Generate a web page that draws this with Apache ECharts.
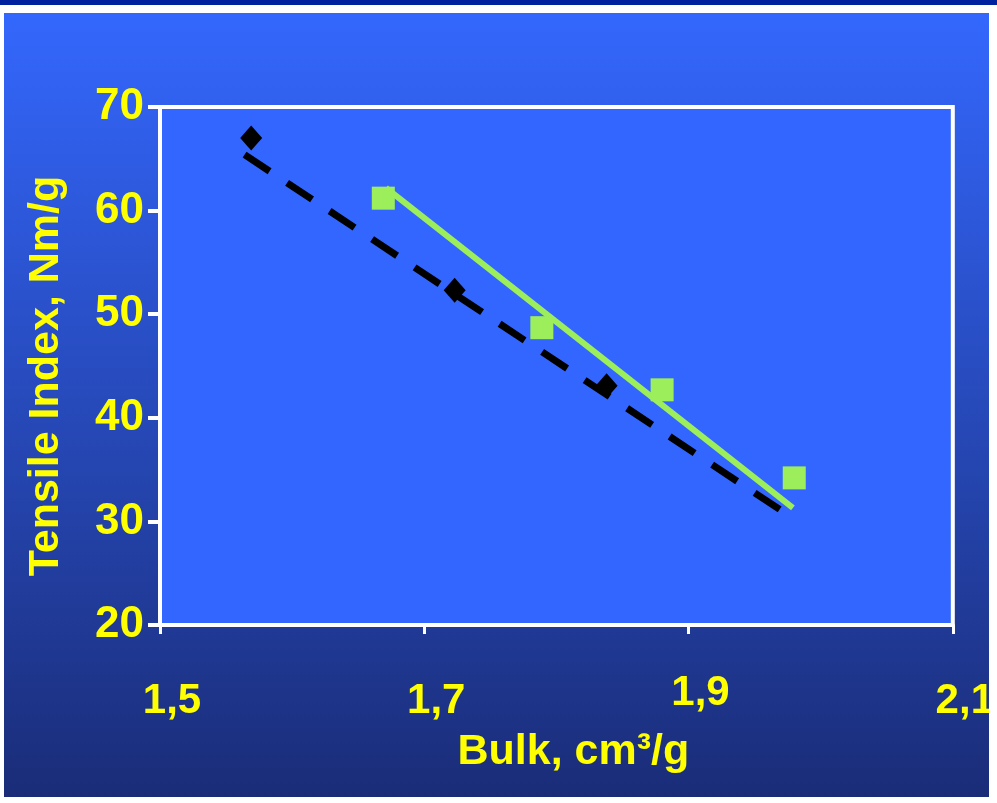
<!DOCTYPE html>
<html><head><meta charset="utf-8">
<script src="https://cdn.jsdelivr.net/npm/echarts@6/dist/echarts.min.js"></script>
<style>html,body{margin:0;padding:0;background:#fff}#c{width:997px;height:803px}</style>
</head><body><div id="c"></div>
<script>
// ---- data ----
const xTickValues = [1.5, 1.7, 1.9, 2.1];
const yTickValues = [20, 30, 40, 50, 60, 70];
const xTitle = 'Bulk, cm³/g';
const yTitle = 'Tensile Index, Nm/g';
// black diamonds
const diamondX = [1.569, 1.723, 1.838];
const diamondY = [67.0, 52.3, 43.1];
// black dashed trend line end points
const dashTrendX = [1.564, 1.972];
const dashTrendY = [65.4, 30.9];
// green squares
const squareX = [1.669, 1.789, 1.880, 1.980];
const squareY = [61.2, 48.7, 42.7, 34.2];
// green solid trend line end points
const greenTrendX = [1.671, 1.979];
const greenTrendY = [62.2, 31.3];

const zip = (a, b) => a.map((v, i) => [v, b[i]]);
const YEL = '#ffff00';
const GREEN = '#9cef5a';
const FONT = '"Liberation Sans", Arial, sans-serif';

const chart = echarts.init(document.getElementById('c'), null, {renderer: 'canvas'});
chart.setOption({
  animation: false,
  backgroundColor: new echarts.graphic.LinearGradient(0, 0, 0, 1, [
    {offset: 0, color: '#3468ff'},
    {offset: 1, color: '#1a2c77'}
  ]),
  graphic: [
    {type: 'rect', z: 100, shape: {x: 0, y: 5, width: 997, height: 8}, style: {fill: '#ffffff'}},
    {type: 'rect', z: 100, shape: {x: 0, y: 0, width: 997, height: 5}, style: {fill: '#00229e'}},
    {type: 'rect', z: 100, shape: {x: 0, y: 5, width: 4, height: 798}, style: {fill: '#ffffff'}},
    {type: 'rect', z: 100, shape: {x: 989, y: 5, width: 8, height: 798}, style: {fill: '#ffffff'}},
    {type: 'rect', z: 100, shape: {x: 0, y: 797, width: 997, height: 6}, style: {fill: '#ffffff'}}
  ],
  grid: {
    left: 160, right: 42, top: 107, bottom: 178,
    show: true, backgroundColor: '#3366ff', borderColor: '#ffffff', borderWidth: 4
  },
  xAxis: {
    type: 'value', min: 1.5, max: 2.1, interval: 0.2,
    name: xTitle, nameLocation: 'middle', nameGap: 106,
    nameTextStyle: {color: YEL, fontSize: 43, fontWeight: 'bold', fontFamily: FONT, padding: [0, 0, 0, 34]},
    axisLine: {show: true, lineStyle: {color: '#ffffff', width: 4}},
    axisTick: {show: true, length: 9, lineStyle: {color: '#ffffff', width: 3}},
    splitLine: {show: false},
    axisLabel: {
      color: YEL, fontSize: 42, fontWeight: 'bold', fontFamily: FONT,
      margin: 97, verticalAlign: 'bottom', padding: [0, 0, 0, 24],
      formatter: v => {
        const s = v.toFixed(1).replace('.', ',');
        return Math.abs(v - 1.9) < 1e-6 ? '{r|' + s + '}' : '{n|' + s + '}';
      },
      rich: {
        n: {color: YEL, fontSize: 42, fontWeight: 'bold', fontFamily: FONT},
        r: {color: YEL, fontSize: 42, fontWeight: 'bold', fontFamily: FONT, padding: [0, 0, 8, 0]}
      }
    }
  },
  yAxis: {
    type: 'value', min: 20, max: 70, interval: 10,
    name: yTitle, nameLocation: 'middle', nameGap: 92, nameRotate: 90,
    nameTextStyle: {color: YEL, fontSize: 43, fontWeight: 'bold', fontFamily: FONT, padding: [0, 20, 0, 0]},
    axisLine: {show: true, lineStyle: {color: '#ffffff', width: 4}},
    axisTick: {show: true, length: 12, lineStyle: {color: '#ffffff', width: 4}},
    splitLine: {show: false},
    axisLabel: {color: YEL, fontSize: 44, fontWeight: 'bold', fontFamily: FONT, margin: 16,
      formatter: v => String(v)}
  },
  series: [
    {
      type: 'line', data: zip(dashTrendX, dashTrendY), symbol: 'none', z: 2,
      lineStyle: {color: '#000000', width: 7, type: [30, 21], cap: 'butt'}
    },
    {
      type: 'scatter', data: zip(diamondX, diamondY), symbol: 'diamond', symbolSize: [22, 25], z: 3,
      itemStyle: {color: '#000000', opacity: 1}
    },
    {
      type: 'scatter', data: zip(squareX, squareY), symbol: 'rect', symbolSize: 23, z: 3,
      itemStyle: {color: GREEN, opacity: 1}
    },
    {
      type: 'line', data: zip(greenTrendX, greenTrendY), symbol: 'none', z: 4,
      lineStyle: {color: GREEN, width: 6}
    }
  ]
});
</script>
</body></html>
